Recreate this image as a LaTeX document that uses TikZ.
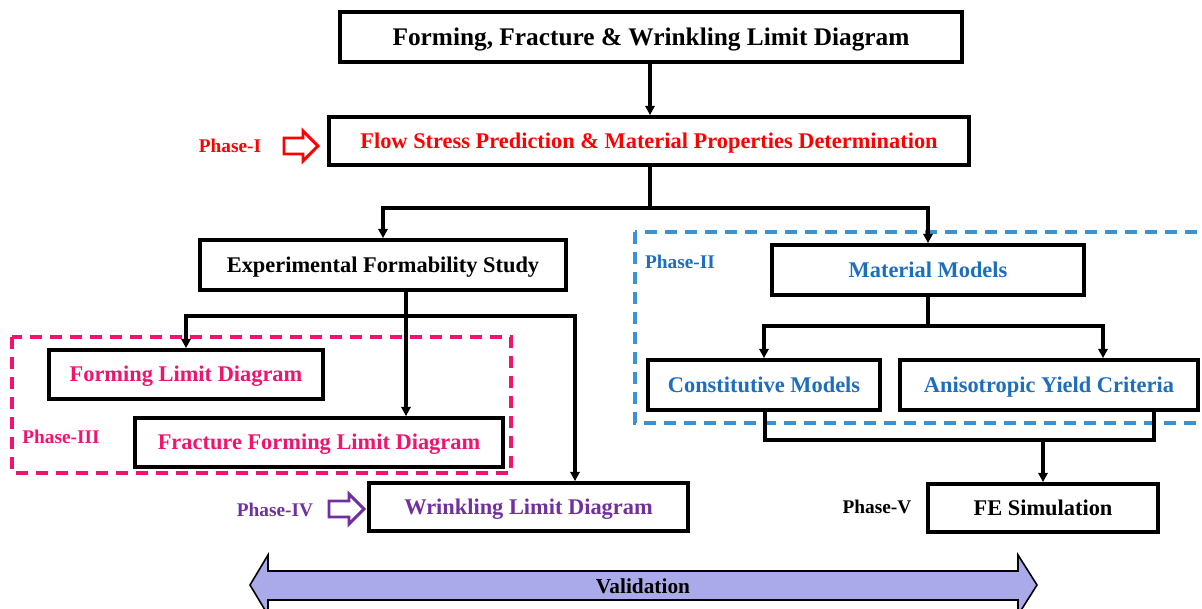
\documentclass[tikz,border=0pt]{standalone}
\usepackage{fontspec}
\setmainfont{Liberation Serif}
\usetikzlibrary{arrows.meta,calc}

\definecolor{phred}{RGB}{255,0,0}
\definecolor{phpink}{RGB}{240,20,110}
\definecolor{phblue}{RGB}{30,110,190}
\definecolor{dashblue}{RGB}{60,145,210}
\definecolor{phpurple}{RGB}{112,48,160}
\definecolor{valfill}{RGB}{170,170,235}

\tikzset{
  box/.style={draw=black, line width=2.8pt, fill=white, inner sep=0pt,
    font=\fontsize{16.8}{18}\selectfont\bfseries, align=center,
    text height=11.1pt, text depth=0pt},
  lbl/.style={inner sep=0pt, font=\fontsize{14.5}{16}\selectfont\bfseries,
    text height=9.6pt, text depth=0pt},
  conn/.style={draw=black, line width=2.6pt},
  arr/.style={conn, -{Triangle[length=7pt,width=7pt]}},
  phasebox/.style={line width=2.4pt, dash pattern=on 9pt off 6pt},
  hollow/.style={line width=2.2pt, fill=white, line join=miter},
}

\begin{document}
\begin{tikzpicture}[x=0.75pt, y=-0.75pt]
  \useasboundingbox (0,0) rectangle (1202,609);
  \clip (0,0) rectangle (1202,609);

  % phase frames
  \draw[phasebox, draw=phpink] (12,337) rectangle (511,473);
  \draw[phasebox, draw=dashblue] (635,232) rectangle (1215,423);

  % boxes
  \node[box, minimum width=622*0.75pt, minimum height=50*0.75pt,
        font=\fontsize{19}{21}\selectfont\bfseries, text height=12.5pt] (top) at (651,37)
        {Forming, Fracture \& Wrinkling Limit Diagram};
  \node[box, minimum width=640*0.75pt, minimum height=48*0.75pt, text=phred]
        (flow) at (649,141)
        {Flow Stress Prediction \& Material Properties Determination};
  \node[box, minimum width=366*0.75pt, minimum height=50*0.75pt] (exp) at (383,265)
        {Experimental Formability Study};
  \node[box, minimum width=312*0.75pt, minimum height=50*0.75pt, text=phblue]
        (mm) at (928,270) {Material Models};
  \node[box, minimum width=232*0.75pt, minimum height=50*0.75pt, text=phblue]
        (cm) at (764,385) {Constitutive Models};
  \node[box, minimum width=298*0.75pt, minimum height=50*0.75pt, text=phblue]
        (ayc) at (1049,385) {Anisotropic Yield Criteria};
  \node[box, minimum width=274*0.75pt, minimum height=49*0.75pt, text=phpink]
        (fld) at (186,374.5) {Forming Limit Diagram};
  \node[box, minimum width=368*0.75pt, minimum height=49*0.75pt, text=phpink]
        (ffld) at (319,442.5) {Fracture Forming Limit Diagram};
  \node[box, minimum width=319*0.75pt, minimum height=48*0.75pt, text=phpurple]
        (wld) at (528.5,507) {Wrinkling Limit Diagram};
  \node[box, minimum width=230*0.75pt, minimum height=48*0.75pt] (fe) at (1043,508)
        {FE Simulation};

  % phase labels
  \node[lbl, text=phred] (p1) at (230,146) {Phase-I};
  \node[lbl, text=phblue] (p2) at (680,262) {Phase-II};
  \node[lbl, text=phpink] (p3) at (61,437) {Phase-III};
  \node[lbl, text=phpurple] (p4) at (275,510) {Phase-IV};
  \node[lbl] (p5) at (877,507) {Phase-V};

  % hollow pointer arrows
  \draw[hollow, draw=phred] (284,138) -- (303,138) -- (303,131) -- (318,146)
        -- (303,161) -- (303,154) -- (284,154) -- cycle;
  \draw[hollow, draw=phpurple] (329,501) -- (349,501) -- (349,494) -- (364,509)
        -- (349,524) -- (349,517) -- (329,517) -- cycle;

  % connectors
  \coordinate (tout) at (650,62);
  \draw[arr] (tout) -- (flow.north -| tout);
  \coordinate (fout) at (650,165);
  \coordinate (fsplit) at (650,208);
  \draw[conn] (fout) -- (fsplit);
  \draw[arr] (fsplit) -| (exp.north);
  \draw[arr] (fsplit) -| (mm.north);

  \coordinate (eout) at (406,290);
  \coordinate (esplit) at (406,316);
  \draw[arr] (eout) -- (ffld.north -| eout);
  \draw[conn] (186,316) -- (575,316);
  \draw[arr] (esplit) -| (fld.north);
  \draw[arr] (esplit) -| ($(wld.north)+(46.5,0)$);

  \coordinate (msplit) at (928,326);
  \draw[conn] (mm.south) -- (msplit);
  \draw[arr] (msplit) -| (cm.north);
  \draw[arr] (msplit) -| ($(ayc.north)+(54,0)$);

  \coordinate (cmout) at (765,410);
  \coordinate (aycout) at (1154,410);
  \coordinate (join) at (1043,440);
  \draw[conn] (cmout) |- (join);
  \draw[conn] (aycout) |- (join);
  \draw[arr] (join) -- (fe.north);

  % validation double arrow
  \draw[line width=1.2pt, fill=valfill, line join=miter]
    (250,585) -- (268,555) -- (268,571) -- (1018,571) -- (1018,555)
    -- (1037,585) -- (1018,615) -- (1018,600) -- (268,600) -- (268,615) -- cycle;
  \node[inner sep=0pt, font=\fontsize{16}{18}\selectfont\bfseries,
        text height=10.6pt, text depth=0pt] (val) at (643,586)
    {Validation};
\end{tikzpicture}
\end{document}
